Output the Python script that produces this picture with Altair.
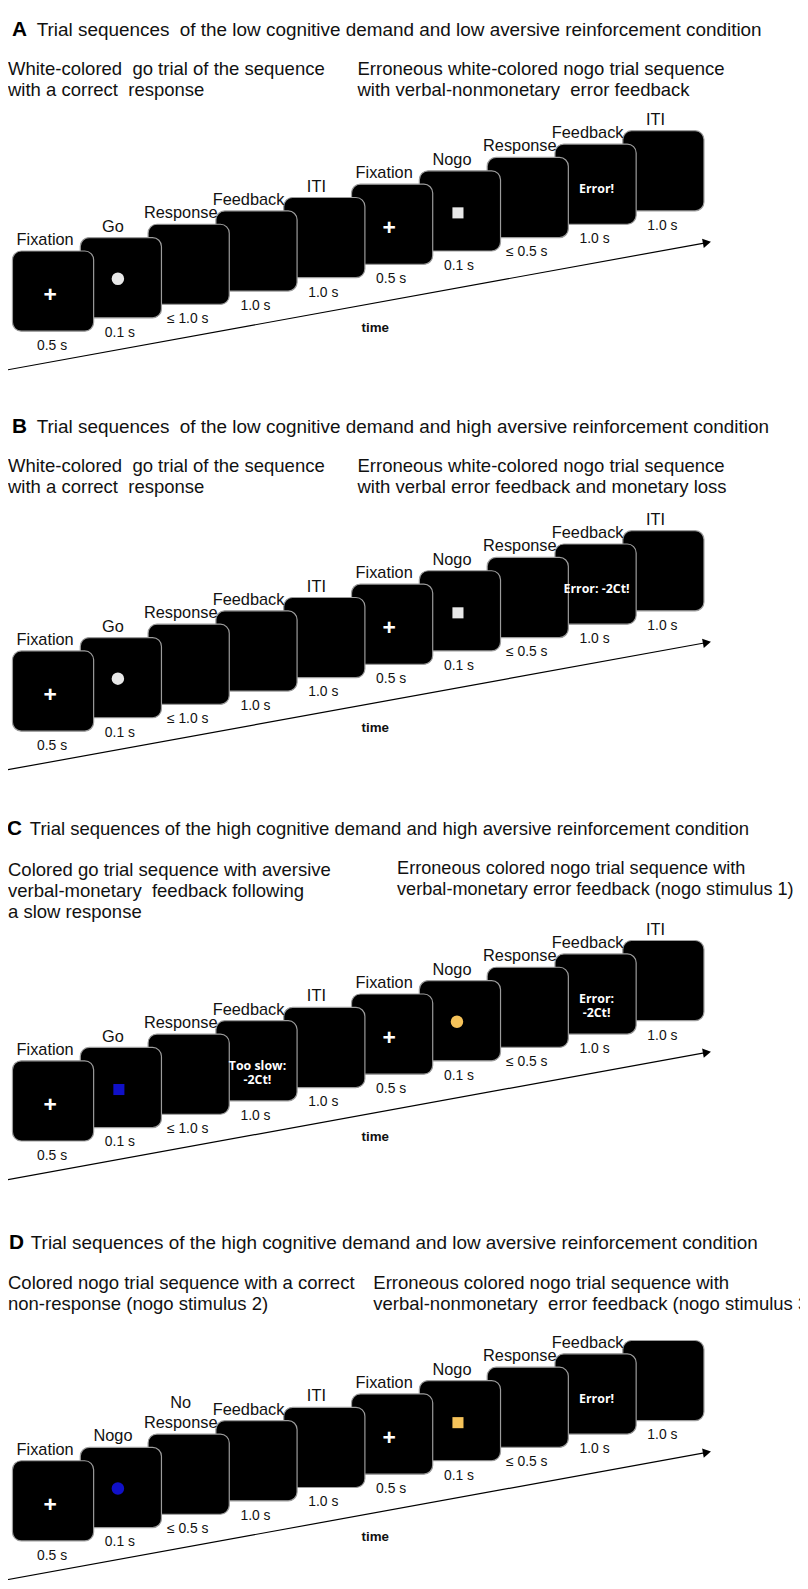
import altair as alt
import pandas as pd

NB = "\u00a0"  # keeps the doubled spaces of the original typesetting

# ---------------- content ----------------
LETTERS = ["A", "B", "C", "D"]
TITLES = [
    f"Trial sequences{NB} of the low cognitive demand and low aversive reinforcement condition",
    f"Trial sequences{NB} of the low cognitive demand and high aversive reinforcement condition",
    "Trial sequences of the high cognitive demand and high aversive reinforcement condition",
    "Trial sequences of the high cognitive demand and low aversive reinforcement condition",
]
LEFT_SUB = [
    [f"White-colored{NB} go trial of the sequence", f"with a correct{NB} response"],
    [f"White-colored{NB} go trial of the sequence", f"with a correct{NB} response"],
    ["Colored go trial sequence with aversive", f"verbal-monetary{NB} feedback following", "a slow response"],
    ["Colored nogo trial sequence with a correct", "non-response (nogo stimulus 2)"],
]
RIGHT_SUB = [
    ["Erroneous white-colored nogo trial sequence", f"with verbal-nonmonetary{NB} error feedback"],
    ["Erroneous white-colored nogo trial sequence", "with verbal error feedback and monetary loss"],
    ["Erroneous colored nogo trial sequence with", "verbal-monetary error feedback (nogo stimulus 1)"],
    ["Erroneous colored nogo trial sequence with", f"verbal-nonmonetary{NB} error feedback (nogo stimulus 3"],
]
STEP_LABELS = [
    ["Fixation", "Go", "Response", "Feedback", "ITI", "Fixation", "Nogo", "Response", "Feedback", "ITI"],
    ["Fixation", "Go", "Response", "Feedback", "ITI", "Fixation", "Nogo", "Response", "Feedback", "ITI"],
    ["Fixation", "Go", "Response", "Feedback", "ITI", "Fixation", "Nogo", "Response", "Feedback", "ITI"],
    ["Fixation", "Nogo", "No\nResponse", "Feedback", "ITI", "Fixation", "Nogo", "Response", "Feedback", ""],
]
DURATIONS = [
    ["0.5 s", "0.1 s", "≤ 1.0 s", "1.0 s", "1.0 s", "0.5 s", "0.1 s", "≤ 0.5 s", "1.0 s", "1.0 s"],
    ["0.5 s", "0.1 s", "≤ 1.0 s", "1.0 s", "1.0 s", "0.5 s", "0.1 s", "≤ 0.5 s", "1.0 s", "1.0 s"],
    ["0.5 s", "0.1 s", "≤ 1.0 s", "1.0 s", "1.0 s", "0.5 s", "0.1 s", "≤ 0.5 s", "1.0 s", "1.0 s"],
    ["0.5 s", "0.1 s", "≤ 0.5 s", "1.0 s", "1.0 s", "0.5 s", "0.1 s", "≤ 0.5 s", "1.0 s", "1.0 s"],
]
# stimulus shown on each screen: cross / circle / square / "" (blank)
STIM_SHAPE = [
    ["cross", "circle", "", "", "", "cross", "square", "", "", ""],
    ["cross", "circle", "", "", "", "cross", "square", "", "", ""],
    ["cross", "square", "", "", "", "cross", "circle", "", "", ""],
    ["cross", "circle", "", "", "", "cross", "square", "", "", ""],
]
STIM_COLOR = [
    ["white", "#e8e8e8", "", "", "", "white", "#e8e8e8", "", "", ""],
    ["white", "#e8e8e8", "", "", "", "white", "#e8e8e8", "", "", ""],
    ["white", "#1010c8", "", "", "", "white", "#f6c35a", "", "", ""],
    ["white", "#1010c8", "", "", "", "white", "#f6c35a", "", "", ""],
]
FEEDBACK = [
    ["", "", "", "", "", "", "", "", "Error!", ""],
    ["", "", "", "", "", "", "", "", "Error: -2Ct!", ""],
    ["", "", "", "Too slow:\n-2Ct!", "", "", "", "", "Error:\n-2Ct!", ""],
    ["", "", "", "", "", "", "", "", "Error!", ""],
]
TIME_LABEL = "time"

# ---------------- layout (page pixels) ----------------
W, H = 800, 1572
M = 8
BOX_OFF = [0, 404, 818, 1222]
TITLE_Y = [22, 423, 829, 1248]
LETTER_X = [12, 12, 7, 9]
TITLE_X = [37, 37, 30, 31]
TITLE_FS = [19.1, 19.1, 18.7, 19.1]
SUB_Y = [62, 463, 871, 1288]
RSUB_Y = [62, 463, 870, 1288]
LSUB_X = [8, 8, 8, 8]
RSUB_X = [361, 361, 401, 377]
LSUB_FS = [18.7, 18.7, 18.7, 18.7]
RSUB_FS = [18.7, 18.7, 18.3, 18.7]
LINE_H = 21
LABEL_LH = 20
X0, DX = 53.5, 68.5
TOP0, DY = 245.5, -13.5
BW, BH = 82, 81

FONT = "Liberation Sans"

boxes, labels, durs, crosses, circles, squares, fbs = [], [], [], [], [], [], []
titles, letters, subs, arrows, heads, times = [], [], [], [], [], []

for p in range(4):
    off = BOX_OFF[p]
    for i in reversed(range(10)):
        cx = X0 + DX * i
        top = TOP0 + DY * i + off
        cy = top + BH / 2
        boxes.append(dict(x=cx - BW / 2 - M, x2=cx + BW / 2 - M, y=top - M, y2=top + BH - M))
        lines = STEP_LABELS[p][i].split("\n") if STEP_LABELS[p][i] else []
        n = len(lines)
        for j, ln in enumerate(lines):
            labels.append(dict(x=cx - 8 - M, y=top - 6 - (n - 1 - j) * LABEL_LH - M, text=ln))
        durs.append(dict(x=cx - 1 - M, y=top + BH + 15 - M, text=DURATIONS[p][i]))
        s = STIM_SHAPE[p][i]
        if s == "cross":
            crosses.append(dict(x=cx - 3 - M, y=cy + 4 - M, text="+"))
        elif s == "circle":
            circles.append(dict(x=cx - 3 - M, y=cy + 1 - M, c=STIM_COLOR[p][i]))
        elif s == "square":
            squares.append(dict(x=cx - 2 - M, y=cy + 2 - M, c=STIM_COLOR[p][i]))
        if FEEDBACK[p][i]:
            fbs.append(dict(x=cx + 1 - M, y=cy + 5 - M, text=FEEDBACK[p][i]))
    letters.append(dict(x=LETTER_X[p] - M, y=TITLE_Y[p] - M, text=LETTERS[p]))
    titles.append(dict(x=TITLE_X[p] - M, y=TITLE_Y[p] - M, text=TITLES[p], fs=TITLE_FS[p]))
    for k, t in enumerate(LEFT_SUB[p]):
        subs.append(dict(x=LSUB_X[p] - M, y=SUB_Y[p] + k * LINE_H - M, text=t, fs=LSUB_FS[p]))
    for k, t in enumerate(RIGHT_SUB[p]):
        subs.append(dict(x=RSUB_X[p] - M, y=RSUB_Y[p] + k * LINE_H - M, text=t, fs=RSUB_FS[p]))
    arrows.append(dict(x=5 - M, y=366 + off - M, x2=714 - M, y2=237 + off - M))
    heads.append(dict(x=714 - M, y=237 + off - M))
    times.append(dict(x=379 - M, y=323 + off - M, text=TIME_LABEL))

XS = alt.Scale(domain=[0, W], nice=False, zero=False)
YS = alt.Scale(domain=[0, H], nice=False, zero=False, reverse=True)


def enc(ch):
    return ch.encode(x=alt.X("x:Q", scale=XS, axis=None), y=alt.Y("y:Q", scale=YS, axis=None))


def D(rows):
    return alt.Data(values=rows)


box_layer = alt.Chart(D(boxes)).mark_rect(
    cornerRadius=9, fill="black", stroke="#9c9c9c", strokeWidth=1.2
).encode(
    x=alt.X("x:Q", scale=XS, axis=None), x2="x2:Q",
    y=alt.Y("y:Q", scale=YS, axis=None), y2="y2:Q",
)

arrow_layer = alt.Chart(D(arrows)).mark_rule(color="black", strokeWidth=1.2).encode(
    x=alt.X("x:Q", scale=XS, axis=None), x2="x2:Q",
    y=alt.Y("y:Q", scale=YS, axis=None), y2="y2:Q",
)
head_layer = enc(alt.Chart(D(heads)).mark_point(
    shape="triangle-right", filled=True, size=90, angle=349.7, color="black", opacity=1
))

label_layer = enc(alt.Chart(D(labels)).mark_text(
    font=FONT, fontSize=16.5, align="center", baseline="alphabetic", color="#111"
)).encode(text="text:N")
dur_layer = enc(alt.Chart(D(durs)).mark_text(
    font=FONT, fontSize=14, align="center", baseline="middle", color="#111"
)).encode(text="text:N")
time_layer = enc(alt.Chart(D(times)).mark_text(
    font=FONT, fontSize=13.5, fontWeight="bold", align="center", baseline="middle", color="#111"
)).encode(text="text:N")
cross_layer = enc(alt.Chart(D(crosses)).mark_text(
    font=FONT, fontSize=23, fontWeight="bold", align="center", baseline="middle", color="white"
)).encode(text="text:N")
circle_layer = enc(alt.Chart(D(circles)).mark_point(
    shape="circle", filled=True, size=160, opacity=1
)).encode(color=alt.Color("c:N", scale=None))
square_layer = enc(alt.Chart(D(squares)).mark_point(
    shape="square", filled=True, size=125, opacity=1
)).encode(color=alt.Color("c:N", scale=None))
fb_layer = enc(alt.Chart(D(fbs)).mark_text(
    font="Open Sans", fontSize=12.5, fontWeight="bold", align="center", baseline="middle",
    lineBreak="\n", lineHeight=14, color="white"
)).encode(text="text:N")

letter_layer = enc(alt.Chart(D(letters)).mark_text(
    font=FONT, fontSize=21, fontWeight="bold", align="left", baseline="middle", color="black"
)).encode(text="text:N")
title_layer = enc(alt.Chart(D(titles)).mark_text(
    font=FONT, align="left", baseline="middle", color="#111"
)).encode(text="text:N", size=alt.Size("fs:Q", scale=None, legend=None))
sub_layer = enc(alt.Chart(D(subs)).mark_text(
    font=FONT, align="left", baseline="middle", color="#111"
)).encode(text="text:N", size=alt.Size("fs:Q", scale=None, legend=None))

chart = alt.layer(
    arrow_layer, head_layer, box_layer, label_layer, dur_layer, time_layer,
    cross_layer, circle_layer, square_layer, fb_layer,
    letter_layer, title_layer, sub_layer,
).properties(
    width=W, height=H, padding=0, autosize=alt.AutoSizeParams(type="none"),
    background="white",
).configure_view(stroke=None)

chart.save("out.html", embed_options={"renderer": "svg", "actions": False})
